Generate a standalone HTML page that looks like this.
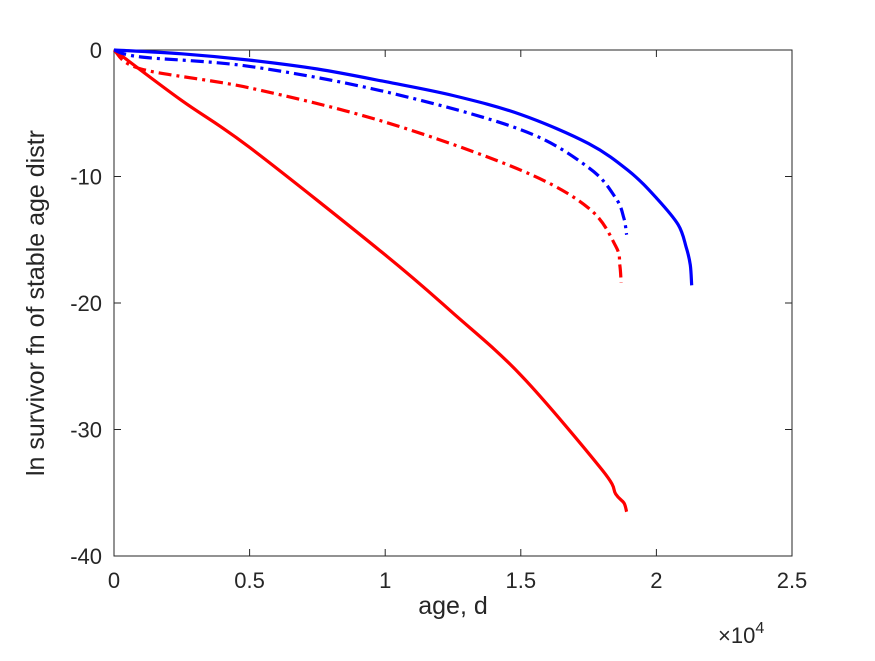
<!DOCTYPE html>
<html><head><meta charset="utf-8"><style>
body{margin:0;background:#fff}
svg{font-family:"Liberation Sans",Arial,sans-serif}
</style></head><body>
<svg id="chart" width="875" height="656" viewBox="0 0 875 656" xmlns="http://www.w3.org/2000/svg">
<rect width="875" height="656" fill="#fff"/>
<g id="axes"></g>
<g id="series"></g>
</svg>
<script>
const xTicks=[0,0.5,1,1.5,2,2.5];
const xTickLabels=["0","0.5","1","1.5","2","2.5"];
const yTicks=[0,-10,-20,-30,-40];
const yTickLabels=["0","-10","-20","-30","-40"];
const blueSolidX=[0,0.25,0.5,0.75,1.0,1.25,1.5,1.75,1.9,2.0,2.08,2.11,2.125,2.13];
const blueSolidY=[0,-0.3,-0.8,-1.5,-2.5,-3.6,-5.1,-7.4,-9.6,-11.7,-13.8,-15.6,-17,-18.6];
const blueDashX=[0,0.1,0.5,1.0,1.5,1.75,1.85,1.88,1.89];
const blueDashY=[0,-0.55,-1.3,-3.3,-6.3,-9.3,-11.7,-13.3,-14.6];
const redDashX=[0,0.1,0.5,1.0,1.5,1.75,1.85,1.865,1.87];
const redDashY=[0,-1.5,-3.0,-5.7,-9.5,-12.5,-15.5,-17.0,-18.4];
const redSolidX=[0,0.25,0.5,1.0,1.25,1.5,1.8,1.85,1.88,1.89];
const redSolidY=[0,-4,-7.7,-16.2,-20.8,-25.7,-33.2,-35.1,-35.8,-36.5];
const L=114,R=792,T=50,B=556,xMin=0,xMax=2.5,yMin=-40,yMax=0;
const sx=v=>L+(v-xMin)/(xMax-xMin)*(R-L);
const sy=v=>T+(yMax-v)/(yMax-yMin)*(B-T);
const NS="http://www.w3.org/2000/svg";
function mk(tag,attrs,parent){const e=document.createElementNS(NS,tag);for(const k in attrs)e.setAttribute(k,attrs[k]);parent.appendChild(e);return e;}
const ax=document.getElementById('axes');
const box=mk('rect',{x:L,y:T,width:R-L,height:B-T,fill:'none',stroke:'#262626','stroke-width':1},ax);


xTicks.forEach((t,i)=>{
 const x=sx(t);
 const tk=mk('path',{d:`M${x},${B}v-7M${x},${T}v7`,stroke:'#262626','stroke-width':1},ax);
 
 
 const tx=mk('text',{x:x,y:B+32,'text-anchor':'middle','font-size':22,fill:'#262626'},ax);
 tx.textContent=xTickLabels[i];
 
 
});
yTicks.forEach((t,i)=>{
 const y=sy(t);
 const tk=mk('path',{d:`M${L},${y}h7M${R},${y}h-7`,stroke:'#262626','stroke-width':1},ax);
 
 
 const tx=mk('text',{x:L-12,y:y+8,'text-anchor':'end','font-size':22,fill:'#262626'},ax);
 tx.textContent=yTickLabels[i];
 
 
});
const xl=mk('text',{x:453,y:614,'text-anchor':'middle','font-size':25,fill:'#262626'},ax);
xl.textContent='age, d';


const ex=mk('text',{x:718,y:643,'font-size':22,fill:'#262626'},ax);
ex.innerHTML='×10<tspan dy="-10" font-size="16">4</tspan>';


const yl=mk('text',{x:0,y:0,'text-anchor':'middle','font-size':25,fill:'#262626',transform:`translate(44,${(T+B)/2}) rotate(-90)`},ax);
yl.textContent='ln survivor fn of stable age distr';


const sg=document.getElementById('series');
function smoothPath(xs,ys){
 const P=xs.map((v,i)=>[sx(v),sy(ys[i])]);
 let d='M'+P[0][0].toFixed(1)+','+P[0][1].toFixed(1);
 for(let i=0;i<P.length-1;i++){
  const p0=P[Math.max(i-1,0)],p1=P[i],p2=P[i+1],p3=P[Math.min(i+2,P.length-1)];
  const c1=[p1[0]+(p2[0]-p0[0])/6,p1[1]+(p2[1]-p0[1])/6];
  const c2=[p2[0]-(p3[0]-p1[0])/6,p2[1]-(p3[1]-p1[1])/6];
  d+=`C${c1[0].toFixed(1)},${c1[1].toFixed(1)} ${c2[0].toFixed(1)},${c2[1].toFixed(1)} ${p2[0].toFixed(1)},${p2[1].toFixed(1)}`;
 }
 return d;
}
function line(xs,ys,color,dash,name){
 const p=mk('path',{d:smoothPath(xs,ys),fill:'none',stroke:color,'stroke-width':3.2,'stroke-linejoin':'round'},sg);
 if(dash)p.setAttribute('stroke-dasharray',dash);
 
 
}
line(redSolidX,redSolidY,'#ff0000',null,'red-solid-line');
line(redDashX,redDashY,'#ff0000','13,5,3,5','red-dashdot-line');
line(blueDashX,blueDashY,'#0000ff','13,5,3,5','blue-dashdot-line');
line(blueSolidX,blueSolidY,'#0000ff',null,'blue-solid-line');
</script>
</body></html>
